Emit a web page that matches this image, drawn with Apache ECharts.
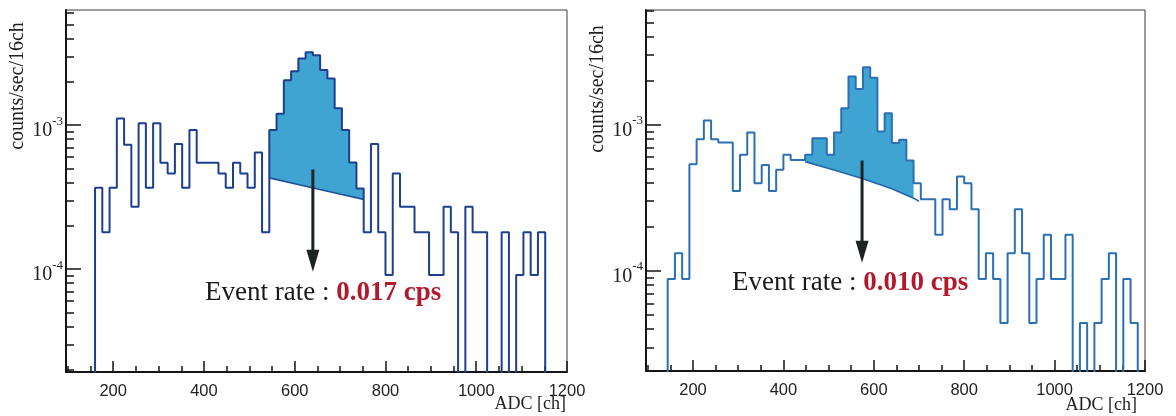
<!DOCTYPE html>
<html>
<head>
<meta charset="utf-8">
<script src="https://cdn.jsdelivr.net/npm/echarts@6/dist/echarts.min.js"></script>
<style>
  html, body { margin: 0; padding: 0; background: #ffffff; }
  #chart { width: 1176px; height: 416px; }
</style>
</head>
<body>
<div id="chart"></div>
<script>
// ---- binning and axis ranges (ADC channels, 16 ch per bin) ----
const BIN = 16;
const X_MIN = 96;
const X_MAX = 1200;
const xLabelValues = [200, 400, 600, 800, 1000, 1200];
const xMinorValues = [100, 150, 250, 300, 350, 450, 500, 550, 650, 700, 750,
                      850, 900, 950, 1050, 1100, 1150];
const yMajorValues = [1e-4, 1e-3];
const yMinorValues = [2e-5, 3e-5, 4e-5, 5e-5, 6e-5, 7e-5, 8e-5, 9e-5,
                      2e-4, 3e-4, 4e-4, 5e-4, 6e-4, 7e-4, 8e-4, 9e-4,
                      2e-3, 3e-3, 4e-3, 5e-3, 6e-3];

// ---- left spectrum ----
const leftYRange = [1.93e-5, 6.3e-3];
const leftStart = 160;                       // first bin edge [ch]
const leftRate = [                           // counts/sec/16ch
  3.67e-4, 1.8e-4, 3.67e-4, 1.11e-3, 7.3e-4, 2.71e-4, 1.03e-3, 3.67e-4, 1.03e-3, 5.47e-4,
  4.61e-4, 7.38e-4, 3.67e-4, 9.23e-4, 5.47e-4, 5.47e-4, 5.47e-4, 4.61e-4, 3.67e-4, 5.47e-4,
  4.61e-4, 3.67e-4, 6.45e-4, 1.8e-4, 9.23e-4, 1.2e-3, 2.05e-3, 2.37e-3, 2.9e-3, 3.2e-3,
  3.06e-3, 2.41e-3, 2.11e-3, 1.31e-3, 9.23e-4, 5.5e-4, 3.63e-4, 1.8e-4, 7.38e-4, 1.8e-4,
  9.1e-5, 4.61e-4, 2.71e-4, 2.71e-4, 1.8e-4, 1.8e-4, 9.1e-5, 9.1e-5, 2.71e-4, 1.8e-4,
  0, 2.71e-4, 1.8e-4, 1.8e-4, 0, 0, 1.8e-4, 0, 9.1e-5, 1.8e-4,
  9.1e-5, 1.8e-4
];
const leftPeakWindow = [544, 752];           // integrated peak region [ch]
const leftBgX = [544, 600, 648, 704, 752];   // background under the peak
const leftBgY = [4.3e-4, 3.92e-4, 3.62e-4, 3.3e-4, 3.05e-4];
const leftArrow = { x: 640, from: 4.92e-4, to: 9.6e-5 };
const leftRateLabel = '0.017 cps';

// ---- right spectrum ----
const rightYRange = [2.07e-5, 6.1e-3];
const rightStart = 144;
const rightRate = [
  8.8e-5, 1.32e-4, 8.8e-5, 5.38e-4, 7.98e-4, 1.07e-3, 7.98e-4, 7.56e-4, 7.56e-4, 3.53e-4,
  6.24e-4, 8.87e-4, 3.98e-4, 5.32e-4, 3.53e-4, 4.92e-4, 6.24e-4, 5.75e-4, 5.75e-4, 6.24e-4,
  8.1e-4, 8.1e-4, 6.24e-4, 8.87e-4, 1.3e-3, 2.14e-3, 1.76e-3, 2.48e-3, 2.1e-3, 9.0e-4,
  1.2e-3, 7.5e-4, 7.9e-4, 5.7e-4, 3.98e-4, 3.1e-4, 3.1e-4, 1.77e-4, 3.1e-4, 2.64e-4,
  4.43e-4, 3.98e-4, 2.64e-4, 8.8e-5, 1.32e-4, 8.8e-5, 4.4e-5, 1.32e-4, 2.64e-4, 1.32e-4,
  4.4e-5, 8.8e-5, 1.77e-4, 8.8e-5, 8.8e-5, 1.77e-4, 0, 4.4e-5, 0, 4.4e-5,
  8.8e-5, 1.32e-4, 0, 8.8e-5, 4.4e-5
];
const rightPeakWindow = [448, 688];
const rightBgX = [448, 512, 576, 640, 688, 700];
const rightBgY = [5.6e-4, 4.9e-4, 4.28e-4, 3.65e-4, 3.15e-4, 3.0e-4];
const rightArrow = { x: 574, from: 5.7e-4, to: 1.14e-4 };
const rightRateLabel = '0.010 cps';

// ---- styling ----
const SERIF = '"Liberation Serif", "Times New Roman", serif';
const SANS = '"Liberation Sans", Arial, sans-serif';
const FILL = '#3fa4d2';
const ARROW_COLOR = '#1c2420';
const AXIS_COLOR = '#151515';

// Histogram outline: two vertices per bin, dropping below the axis for empty bins
function stepPoints(start, rates, floor) {
  const pts = [[start, floor]];
  rates.forEach(function (r, i) {
    const v = r > 0 ? r : floor;
    const x0 = start + i * BIN;
    pts.push([x0, v], [x0 + BIN, v]);
  });
  pts.push([start + rates.length * BIN, floor]);
  return pts;
}

// Shaded peak above the background curve
function peakRenderer(start, rates, win, bgX, bgY) {
  return function (params, api) {
    const pts = [api.coord([win[0], bgY[0]])];
    rates.forEach(function (r, i) {
      const x0 = start + i * BIN;
      if (x0 >= win[0] && x0 < win[1]) {
        pts.push(api.coord([x0, r]), api.coord([x0 + BIN, r]));
      }
    });
    for (let j = bgX.length - 1; j >= 0; j--) {
      if (bgX[j] <= win[1]) pts.push(api.coord([bgX[j], bgY[j]]));
    }
    return { type: 'polygon', shape: { points: pts }, style: { fill: FILL } };
  };
}

function arrowRenderer(arrow) {
  return function (params, api) {
    const a = api.coord([arrow.x, arrow.from]);
    const b = api.coord([arrow.x, arrow.to]);
    const headL = 22, headW = 6.5;
    return {
      type: 'group',
      children: [
        { type: 'line', shape: { x1: a[0], y1: a[1], x2: b[0], y2: b[1] - headL + 2 },
          style: { stroke: ARROW_COLOR, lineWidth: 3 } },
        { type: 'polygon',
          shape: { points: [[b[0] - headW, b[1] - headL], [b[0] + headW, b[1] - headL], [b[0], b[1]]] },
          style: { fill: ARROW_COLOR } }
      ]
    };
  };
}

function xAxesFor(g) {
  return [
    { type: 'value', gridIndex: g, position: 'bottom', min: X_MIN, max: X_MAX,
      axisLine: { show: true, lineStyle: { color: AXIS_COLOR, width: 2 } },
      axisTick: { show: true, inside: true, length: 11, customValues: xLabelValues,
                  lineStyle: { color: AXIS_COLOR, width: 1.5 } },
      axisLabel: { customValues: xLabelValues, fontFamily: SANS, fontSize: 16.5,
                   color: '#222', margin: 11,
                   formatter: function (v) { return String(v); } },
      splitLine: { show: false } },
    { type: 'value', gridIndex: g, position: 'bottom', offset: 0, min: X_MIN, max: X_MAX,
      axisLine: { show: false },
      axisTick: { show: true, inside: true, length: 6, customValues: xMinorValues,
                  lineStyle: { color: AXIS_COLOR, width: 1.5 } },
      axisLabel: { show: false },
      splitLine: { show: false } }
  ];
}

function yAxesFor(g, range) {
  return [
    { type: 'log', logBase: 10, gridIndex: g, position: 'left', min: range[0], max: range[1],
      axisLine: { show: true, lineStyle: { color: AXIS_COLOR, width: 2 } },
      axisTick: { show: true, inside: true, length: 15, customValues: yMajorValues,
                  lineStyle: { color: AXIS_COLOR, width: 1.5 } },
      axisLabel: {
        customValues: yMajorValues, margin: 3, padding: [12, 0, 0, 0],
        formatter: function (v) { return '{b|10}{s|' + Math.round(Math.log10(v)) + '}'; },
        rich: {
          b: { fontFamily: SERIF, fontSize: 20, color: '#222', lineHeight: 20,
               verticalAlign: 'bottom' },
          s: { fontFamily: SERIF, fontSize: 13, color: '#222', lineHeight: 13,
               padding: [3.5, 0, 13.5, 0], verticalAlign: 'bottom' }
        }
      },
      splitLine: { show: false } },
    { type: 'log', logBase: 10, gridIndex: g, position: 'left', offset: 0,
      min: range[0], max: range[1],
      axisLine: { show: false },
      axisTick: { show: true, inside: true, length: 8, customValues: yMinorValues,
                  lineStyle: { color: AXIS_COLOR, width: 1.5 } },
      axisLabel: { show: false },
      splitLine: { show: false } }
  ];
}

function panelSeries(g, start, rates, range, win, bgX, bgY, arrow, lineColor, bgColor) {
  const xi = g * 2, yi = g * 2;
  return [
    { type: 'custom', xAxisIndex: xi, yAxisIndex: yi, z: 1, silent: true,
      renderItem: peakRenderer(start, rates, win, bgX, bgY),
      data: [[win[0], bgY[0]]] },
    { type: 'line', xAxisIndex: xi, yAxisIndex: yi, z: 3, silent: true,
      data: stepPoints(start, rates, range[0] * 0.8),
      showSymbol: false, clip: true,
      lineStyle: { color: lineColor, width: 2 } },
    { type: 'line', xAxisIndex: xi, yAxisIndex: yi, z: 4, silent: true,
      data: bgX.map(function (x, i) { return [x, bgY[i]]; }),
      showSymbol: false,
      lineStyle: { color: bgColor, width: 1.6 } },
    { type: 'custom', xAxisIndex: xi, yAxisIndex: yi, z: 5, silent: true,
      renderItem: arrowRenderer(arrow),
      data: [[arrow.x, arrow.from]] }
  ];
}

function rateText(x, y, value) {
  return {
    type: 'text', x: x, y: y, silent: true,
    style: {
      text: '{n|Event rate : }{v|' + value + '}',
      verticalAlign: 'middle',
      rich: {
        n: { fontFamily: SERIF, fontSize: 27, fill: '#1a1a1a' },
        v: { fontFamily: SERIF, fontSize: 27, fontWeight: 'bold', fill: '#b01a2c' }
      }
    }
  };
}

function yTitle(x, y) {
  return { type: 'text', x: x, y: y, rotation: Math.PI / 2, silent: true,
    style: { text: 'counts/sec/16ch', font: '20px ' + SERIF, fill: '#222',
             align: 'center', verticalAlign: 'middle' } };
}

function xTitle(x, y) {
  return { type: 'text', x: x, y: y, silent: true,
    style: { text: 'ADC [ch]', font: '18px ' + SERIF, fill: '#222',
             align: 'right', verticalAlign: 'middle' } };
}

const chart = echarts.init(document.getElementById('chart'), null, { renderer: 'canvas' });
chart.setOption({
  animation: false,
  backgroundColor: '#ffffff',
  grid: [
    { left: 66, top: 10, width: 501, height: 362, show: true,
      borderColor: '#3a3a3a', borderWidth: 1, backgroundColor: 'transparent' },
    { left: 646, top: 10, width: 499, height: 361, show: true,
      borderColor: '#3a3a3a', borderWidth: 1, backgroundColor: 'transparent' }
  ],
  xAxis: xAxesFor(0).concat(xAxesFor(1)),
  yAxis: yAxesFor(0, leftYRange).concat(yAxesFor(1, rightYRange)),
  series: panelSeries(0, leftStart, leftRate, leftYRange, leftPeakWindow, leftBgX, leftBgY,
                      leftArrow, '#1d3f8e', '#1f4f98')
    .concat(panelSeries(1, rightStart, rightRate, rightYRange, rightPeakWindow, rightBgX, rightBgY,
                        rightArrow, '#2b70b3', '#2466a8')),
  graphic: [
    yTitle(18, 86), yTitle(598, 89),
    xTitle(566, 404), xTitle(1137, 405),
    rateText(205, 293, leftRateLabel),
    rateText(732, 283, rightRateLabel)
  ]
});
</script>
</body>
</html>
